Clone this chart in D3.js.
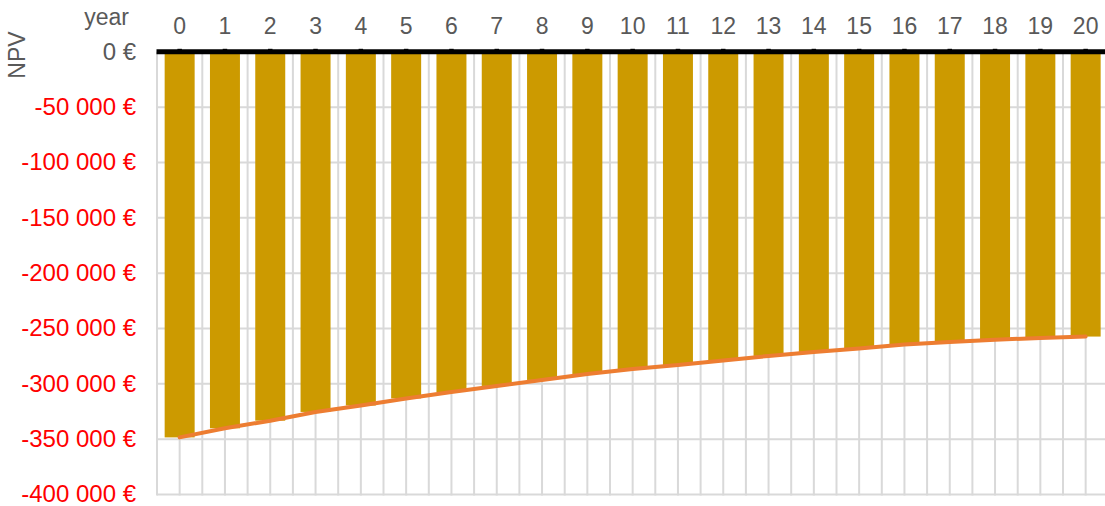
<!DOCTYPE html>
<html>
<head>
<meta charset="utf-8">
<script src="https://cdn.jsdelivr.net/npm/d3@7/dist/d3.min.js"></script>
<style>
  html, body { margin: 0; padding: 0; background: #fff; }
  svg { display: block; font-family: "Liberation Sans", Arial, sans-serif; }
</style>
</head>
<body>
<svg id="chart" width="1105" height="506"></svg>
<script>
const years = [0,1,2,3,4,5,6,7,8,9,10,11,12,13,14,15,16,17,18,19,20];
const npvValues = [-348400,-340200,-333300,-325400,-319600,-313200,-307400,-301900,-296500,-291100,-286600,-283000,-278900,-274800,-271200,-268100,-264500,-262300,-260200,-258500,-257300];
const yTicks = [0,-50000,-100000,-150000,-200000,-250000,-300000,-350000,-400000];
const yTickLabels = ["0 €","-50 000 €","-100 000 €","-150 000 €","-200 000 €","-250 000 €","-300 000 €","-350 000 €","-400 000 €"];
const xTitle = "year";
const yTitle = "NPV";

(function () {
const svg = d3.select("#chart");
const mLeft = 157, mTop = 51.8, mBottom = 494.5;
const step = 45.3;
const mRight = mLeft + step * years.length;

const x = d3.scaleBand().domain(years).range([mLeft, mRight]).paddingInner(0.338).paddingOuter(0.169);
const y = d3.scaleLinear().domain([-400000, 0]).range([mBottom, mTop]);

const grid = svg.append("g").attr("stroke", "#d9d9d9").attr("stroke-width", 2);
yTicks.filter(d => d !== 0).forEach(d => {
  grid.append("line").attr("x1", mLeft).attr("x2", mRight).attr("y1", y(d)).attr("y2", y(d));
});
const vLines = [];
years.forEach((d, i) => {
  const s = mLeft + i * x.step();
  vLines.push(s, s + x.step() / 2);
});
vLines.push(mRight);
vLines.forEach(v => {
  grid.append("line").attr("x1", v).attr("x2", v).attr("y1", mTop).attr("y2", mBottom + 1);
});

svg.append("g").selectAll("rect").data(years).join("rect")
  .attr("x", d => x(d))
  .attr("width", x.bandwidth())
  .attr("y", y(0))
  .attr("height", (d, i) => y(npvValues[i]) - y(0))
  .attr("fill", "#cc9a00");

const line = d3.line()
  .x((d, i) => x(years[i]) + x.bandwidth() / 2)
  .y(d => y(d));
svg.append("path").datum(npvValues)
  .attr("d", line)
  .attr("fill", "none")
  .attr("stroke", "#ed7d31")
  .attr("stroke-width", 4)
  .attr("stroke-linecap", "round");

const xAxis = d3.axisTop(x).tickSize(3).tickPadding(15);
const gx = svg.append("g").attr("transform", `translate(0,${y(0)})`).call(xAxis);
gx.select(".domain").remove();
gx.insert("line", ":first-child")
  .attr("x1", mLeft - 0.5).attr("x2", 1105).attr("y1", 0).attr("y2", 0)
  .attr("stroke", "#000").attr("stroke-width", 5);
gx.selectAll(".tick line").attr("stroke", "#000").attr("stroke-width", 4.5);
gx.selectAll(".tick text")
  .attr("fill", "#595959")
  .attr("font-size", 23)
  .attr("font-family", "Liberation Sans, Arial, sans-serif");

const yAxis = d3.axisLeft(y).tickValues(yTicks).tickSize(0).tickPadding(21)
  .tickFormat((d, i) => yTickLabels[i]);
const gy = svg.append("g").attr("transform", `translate(${mLeft},0)`).call(yAxis);
gy.select(".domain").remove();
gy.selectAll(".tick text")
  .attr("fill", d => d === 0 ? "#595959" : "#ff0000")
  .attr("font-size", 24)
  .attr("dy", "0.3em")
  .attr("font-family", "Liberation Sans, Arial, sans-serif");

svg.append("text").attr("x", 129).attr("y", 25).attr("text-anchor", "end")
  .attr("fill", "#595959").attr("font-size", 23).text(xTitle);
svg.append("text").attr("transform", "translate(25,55) rotate(-90)")
  .attr("text-anchor", "middle").attr("fill", "#595959").attr("font-size", 23).text(yTitle);
})();
</script>
</body>
</html>
